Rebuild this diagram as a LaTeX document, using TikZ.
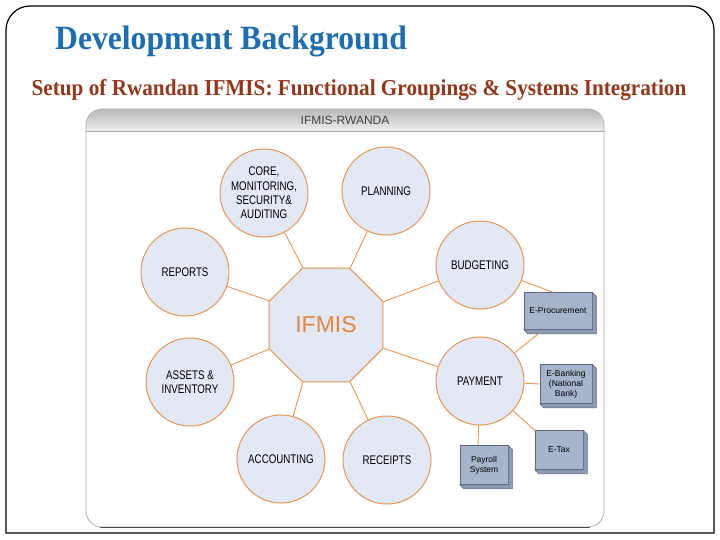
\documentclass[tikz,border=0pt]{standalone}
\usepackage{fontspec}
\setmainfont{Liberation Serif}
\newfontfamily\titlefont{Liberation Serif}[FakeStretch=0.93]
\newfontfamily\diagfont{Liberation Sans}[FakeStretch=0.78]
\newfontfamily\boxfont{Liberation Sans}
\usetikzlibrary{shapes.geometric}
\definecolor{titleblue}{RGB}{28,110,180}
\definecolor{subred}{RGB}{150,55,25}
\definecolor{linkorange}{RGB}{232,150,80}
\definecolor{hubtext}{RGB}{226,135,60}
\definecolor{circfill}{RGB}{226,233,245}
\definecolor{boxface}{RGB}{166,181,204}
\definecolor{boxside}{RGB}{140,155,180}
\definecolor{boxedge}{RGB}{95,105,125}

\begin{document}
\begin{tikzpicture}[
  x=1pt, y=-1pt,
  func/.style={circle, draw=linkorange, line width=1pt, fill=circfill, minimum size=88pt, inner sep=0pt, align=center, font=\diagfont\fontsize{12.5}{14.3}\selectfont, text=black},
  hub/.style={regular polygon, regular polygon sides=8, draw=linkorange, line width=1pt, fill=circfill, minimum size=123pt, inner sep=0pt, font=\boxfont\fontsize{23}{23}\selectfont, text=hubtext},
  sysbox/.style={rectangle, draw=boxedge, line width=0.6pt, fill=boxface, minimum height=39pt, inner sep=1pt, align=center, font=\boxfont\fontsize{8.5}{10}\selectfont},
  link/.style={draw=linkorange, line width=0.9pt}
]
\useasboundingbox (0,0) rectangle (720,540);
\fill[white] (0,0) rectangle (720,540);
% slide frame and titles
\draw[line width=1.2pt] (6,533) [rounded corners=24]-- (6,6) -- (714,6) [sharp corners]-- (714,533) -- cycle;
\node[anchor=base west, font=\titlefont\bfseries\fontsize{34}{34}\selectfont, text=titleblue, inner sep=0pt] (title) at (55,50) {Development Background};
\node[anchor=base, font=\titlefont\bfseries\fontsize{22.8}{22.8}\selectfont, text=subred, inner sep=0pt] (subtitle) at (359,96) {Setup of Rwandan IFMIS: Functional Groupings \& Systems Integration};

% panel
\shade[top color=gray!55, bottom color=gray!12] (86,132) [rounded corners=16]-- (86,109) -- (604,109) [sharp corners]-- (604,132) -- cycle;
\draw[gray!60, line width=0.8pt, rounded corners=16] (86,109) rectangle (604,527);
\draw[black!70, line width=0.8pt] (100,527) -- (590,527);
\draw[gray!70, line width=1pt] (86,132) -- (604,132);
\node[font=\boxfont\fontsize{12}{12}\selectfont, text=black!75] (header) at (345,120) {IFMIS-RWANDA};

% functional groupings
\node[hub] (ifmis) at (326,325) {IFMIS};
\node[func] (core) at (264,193) {CORE,\\MONITORING,\\SECURITY\&\\AUDITING};
\node[func] (planning) at (386,191) {PLANNING};
\node[func] (reports) at (185,272) {REPORTS};
\node[func] (budgeting) at (480,265) {BUDGETING};
\node[func] (assets) at (190,382) {ASSETS \&\\INVENTORY};
\node[func] (payment) at (480,381) {PAYMENT};
\node[func] (accounting) at (281,459) {ACCOUNTING};
\node[func] (receipts) at (387,460) {RECEIPTS};

% integrated systems
\node[sysbox, minimum width=68pt, minimum height=37pt] (eproc) at (558,311) {E-Procurement};
\node[sysbox, minimum width=52pt] (ebank) at (566,384) {E-Banking\\(National\\Bank)};
\node[sysbox, minimum width=48pt] (etax) at (559,450) {E-Tax};
\node[sysbox, minimum width=48pt] (payroll) at (484,465) {Payroll\\System};

\draw[link] (core) -- (ifmis.112.5);
\draw[link] (planning) -- (ifmis.67.5);
\draw[link] (budgeting) -- (ifmis.22.5);
\draw[link] (payment) -- (ifmis.-22.5);
\draw[link] (receipts) -- (ifmis.-67.5);
\draw[link] (accounting) -- (ifmis.-112.5);
\draw[link] (assets) -- (ifmis.-157.5);
\draw[link] (reports) -- (ifmis.157.5);
\draw[link] (budgeting) -- ([xshift=-5pt]eproc.north);
\draw[link] (payment) -- ([xshift=-15pt]eproc.south);
\draw[link] (payment) -- (ebank.west);
\draw[link] (payment) -- (etax.north west);
\draw[link] (payment) -- ([xshift=-6pt]payroll.north);

% bevels
\foreach \b in {eproc,ebank,etax,payroll}
  \filldraw[fill=boxside, draw=boxedge, line width=0.5pt] (\b.north east) -- ++(4,4) -- ([shift={(4,4)}]\b.south east) -- ([shift={(4,4)}]\b.south west) -- (\b.south west) -- (\b.south east) -- cycle;
\end{tikzpicture}
\end{document}
